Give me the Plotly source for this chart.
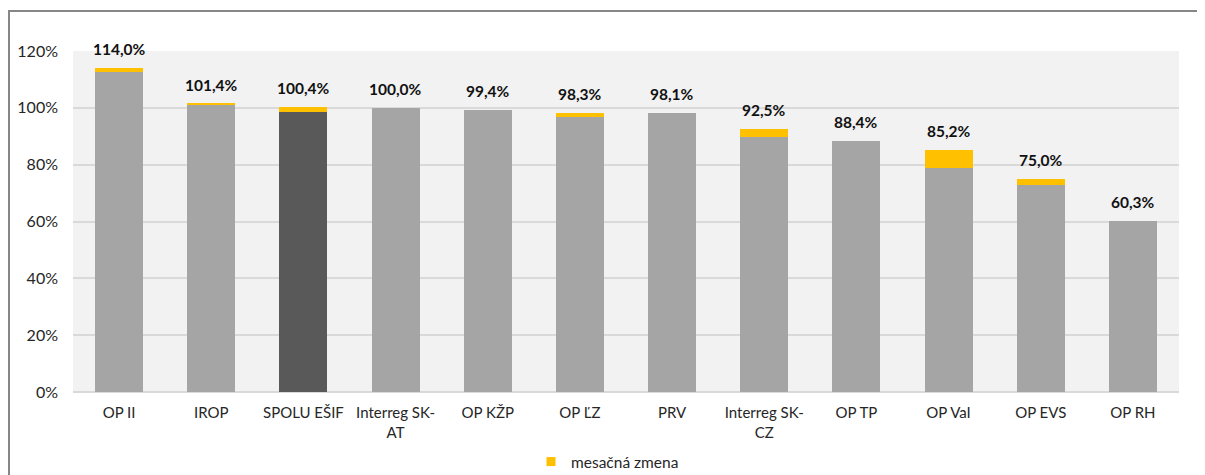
import plotly.graph_objects as go

categories = ["OP II", "IROP", "SPOLU EŠIF", "Interreg SK-<br>AT", "OP KŽP", "OP ĽZ",
              "PRV", "Interreg SK-<br>CZ", "OP TP", "OP VaI", "OP EVS", "OP RH"]
base_values = [112.5, 101.0, 98.6, 100.0, 99.4, 96.7, 98.1, 89.6, 88.4, 79.0, 72.9, 60.3]
change_values = [1.5, 0.4, 1.8, 0.0, 0.0, 1.6, 0.0, 2.9, 0.0, 6.2, 2.1, 0.0]
highlight = "SPOLU EŠIF"
y_ticks = [0, 20, 40, 60, 80, 100, 120]
y_tick_labels = ["0%", "20%", "40%", "60%", "80%", "100%", "120%"]
legend_name = "mesačná zmena"

FONT = "Lato, 'Open Sans', sans-serif"
GREY = "#a5a5a5"
DARK = "#595959"
YELLOW = "#ffc000"
TXT = "#262626"

totals = [round(b + c, 1) for b, c in zip(base_values, change_values)]
base_colors = [DARK if c == highlight else GREY for c in categories]

fig = go.Figure()
fig.add_trace(go.Bar(
    x=categories, y=base_values, marker=dict(color=base_colors, line=dict(width=0)),
    showlegend=False, hoverinfo="skip", name="stav"))
fig.add_trace(go.Bar(
    x=categories, y=change_values, marker=dict(color=YELLOW, line=dict(width=0)),
    name=legend_name, showlegend=False, legendgroup="chg"))
# legend entry with a small square swatch
fig.add_trace(go.Scatter(
    x=[None], y=[None], mode="markers", name=legend_name, legendgroup="chg",
    marker=dict(symbol="square", size=9, color=YELLOW), showlegend=True))

for cat, tot in zip(categories, totals):
    fig.add_annotation(x=cat, y=tot, text="<b>" + f"{tot:.1f}".replace(".", ",") + "%</b>",
                       showarrow=False, yanchor="bottom", yshift=8,
                       font=dict(family=FONT, size=15.5, color="#111111"))

# page body has an 8px margin; the figure is placed to compensate
OFF = 8
W, H = 1205, 475 - OFF
ml, mr, mt, mb = 65, 34, 43, 83
pw = W - ml - mr
ph = H - mt - mb

def px_to_paper_x(px):
    return (px - OFF - ml) / pw

def px_to_paper_y(py):
    return (H - mb - (py - OFF)) / ph

border = dict(color="#878787", width=2)
fig.add_shape(type="line", xref="paper", yref="paper",
              x0=px_to_paper_x(8), x1=px_to_paper_x(1220),
              y0=px_to_paper_y(11), y1=px_to_paper_y(11), line=border)
fig.add_shape(type="line", xref="paper", yref="paper",
              x0=px_to_paper_x(9), x1=px_to_paper_x(9),
              y0=px_to_paper_y(11), y1=px_to_paper_y(485), line=border)

fig.update_layout(
    width=W, height=H,
    margin=dict(l=ml, r=mr, t=mt, b=mb, autoexpand=False),
    barmode="stack", bargap=0.48,
    paper_bgcolor="white", plot_bgcolor="#f2f2f2",
    font=dict(family=FONT, size=15, color=TXT),
    legend=dict(orientation="h", x=px_to_paper_x(531), xanchor="left",
                y=px_to_paper_y(462), yanchor="middle",
                font=dict(family=FONT, size=15.5, color=TXT),
                itemwidth=30, bgcolor="rgba(0,0,0,0)"),
    xaxis=dict(showgrid=False, tickfont=dict(family=FONT, size=15, color=TXT),
               ticks="", ticklabelstandoff=10, showline=False),
    yaxis=dict(range=[0, 120], tickvals=y_ticks, ticktext=y_tick_labels,
               showgrid=True, gridcolor="#d9d9d9", gridwidth=2,
               zeroline=True, zerolinecolor="#d9d9d9", zerolinewidth=2,
               tickfont=dict(family=FONT, size=16, color=TXT), ticks="",
               ticklabelstandoff=14, showline=False),
)

fig.write_html("out.html")
